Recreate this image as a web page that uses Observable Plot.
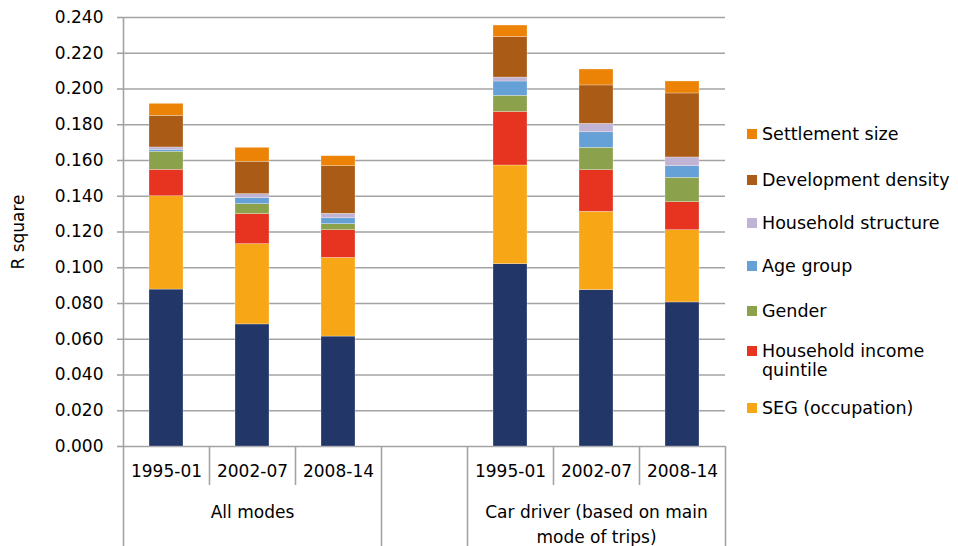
<!DOCTYPE html>
<html><head><meta charset="utf-8">
<script src="https://cdn.jsdelivr.net/npm/d3@7"></script>
<script src="https://cdn.jsdelivr.net/npm/@observablehq/plot@0.6"></script>
<style>
body{margin:0;background:#fff;font-family:"DejaVu Sans",sans-serif;}
#wrap{position:relative;width:958px;height:546px;overflow:hidden;}
#legend{position:absolute;left:747px;top:0;}
.item{position:absolute;left:0;display:flex;align-items:flex-start;font-size:17.5px;line-height:19px;color:#000;width:205px;font-family:"DejaVu Sans",sans-serif;}
.sw{width:10px;height:10px;margin-top:4.5px;margin-right:5px;flex:none;}
</style></head><body>
<div id="wrap"><div id="chart"></div><div id="legend"></div></div>
<script>
// ---- data ----
const groups = ["All modes", "Car driver (based on main\nmode of trips)"];
const periods = ["1995-01", "2002-07", "2008-14"];
const seriesNames = ["Base", "SEG (occupation)", "Household income quintile", "Gender", "Age group", "Household structure", "Development density", "Settlement size"];
const seriesColors = ["#233668", "#f7a715", "#e63420", "#8ba14b", "#65a0d7", "#c1b3d3", "#aa5c16", "#ec8306"];
// values per series for bars: All modes 1995-01, 2002-07, 2008-14, Car driver 1995-01, 2002-07, 2008-14
const base      = [0.0878, 0.0683, 0.0615, 0.1020, 0.0875, 0.0806];
const seg       = [0.0522, 0.0449, 0.0440, 0.0552, 0.0438, 0.0404];
const income    = [0.0148, 0.0168, 0.0155, 0.0300, 0.0233, 0.0157];
const gender    = [0.0101, 0.0056, 0.0034, 0.0090, 0.0125, 0.0136];
const age       = [0.0011, 0.0033, 0.0033, 0.0080, 0.0087, 0.0065];
const hhStruct  = [0.0013, 0.0023, 0.0025, 0.0022, 0.0047, 0.0049];
const devDens   = [0.0177, 0.0181, 0.0266, 0.0226, 0.0215, 0.0358];
const settle    = [0.0067, 0.0078, 0.0056, 0.0065, 0.0089, 0.0067];
const seriesValues = [base, seg, income, gender, age, hhStruct, devDens, settle];
const yTicks = [0, 0.02, 0.04, 0.06, 0.08, 0.10, 0.12, 0.14, 0.16, 0.18, 0.20, 0.22, 0.24];
const legendLabels = ["Settlement size", "Development density", "Household structure", "Age group", "Gender", "Household income quintile", "SEG (occupation)"];

// ---- build ----
const barCats = [];
groups.forEach(g => periods.forEach(p => barCats.push(g + "|" + p)));
const gapCat = "gap";
const xDomain = [...barCats.slice(0, 3), gapCat, ...barCats.slice(3)];
const data = [];
seriesNames.forEach((s, si) => barCats.forEach((c, ci) => data.push({cat: c, series: s, value: seriesValues[si][ci]})));
const groupData = groups.map((g, i) => ({cat: barCats[i * 3 + 1], label: g}));

const W = 958, H = 546, mL = 123, mR = 233, mT = 17, mB = 100;
const plotH = H - mT - mB;
const step = (W - mL - mR) / xDomain.length;
const grid = "#a3a3a3";

const plot = Plot.plot({
  width: W, height: H, marginLeft: mL, marginRight: mR, marginTop: mT, marginBottom: mB,
  style: {fontFamily: "DejaVu Sans, sans-serif", fontSize: "17px", color: "#000", background: "#fff"},
  x: {domain: xDomain, paddingInner: 0.6, paddingOuter: 0.3},
  y: {domain: [0, 0.24]},
  color: {domain: seriesNames, range: seriesColors},
  marks: [
    Plot.ruleY(yTicks, {stroke: grid, strokeWidth: 1.6}),
    Plot.barY(data, {x: "cat", y: "value", fill: "series", stroke: "#ffffff", strokeWidth: 0.6, strokeOpacity: 0.45}),
    Plot.axisY({ticks: yTicks, tickFormat: d3.format(".3f"), tickSize: 6, tickPadding: 14, stroke: grid, strokeWidth: 1.6,
      label: "R square", labelAnchor: "center", labelArrow: "none", labelOffset: 112, fontSize: 17}),
    Plot.axisX({tickSize: 0, tickPadding: 18, fontSize: 17, label: null, tickFormat: d => d === gapCat ? "" : d.split("|")[1]}),
    Plot.text(groupData, {x: "cat", text: "label", frameAnchor: "bottom", lineAnchor: "top", dy: 54, lineHeight: 1.45, fontSize: 17}),
    // y axis line extending down through category labels
    Plot.ruleX([xDomain[0]], {dx: -step / 2, insetBottom: -mB, stroke: grid, strokeWidth: 1.6}),
    // group separators
    Plot.ruleX([gapCat, xDomain[4]], {dx: -step / 2, insetTop: plotH, insetBottom: -mB, stroke: grid, strokeWidth: 1.6}),
    Plot.ruleX([xDomain[xDomain.length - 1]], {dx: step / 2, insetTop: plotH, insetBottom: -mB, stroke: grid, strokeWidth: 1.6}),
    // period separators
    Plot.ruleX([xDomain[1], xDomain[2], xDomain[5], xDomain[6]], {dx: -step / 2, insetTop: plotH, insetBottom: -39, stroke: grid, strokeWidth: 1.6})
  ]
});
document.getElementById("chart").appendChild(plot);

// ---- legend ----
const legendTops = [129, 175, 218, 261, 306, 346, 403];
const leg = document.getElementById("legend");
legendLabels.forEach((lab, i) => {
  const idx = seriesNames.indexOf(lab);
  const it = document.createElement("div");
  it.className = "item";
  it.style.top = (legendTops[i] - 4.5) + "px";
  const sw = document.createElement("div");
  sw.className = "sw";
  sw.style.background = seriesColors[idx];
  const tx = document.createElement("div");
  tx.textContent = lab;
  it.appendChild(sw); it.appendChild(tx);
  leg.appendChild(it);
});
</script>
</body></html>
